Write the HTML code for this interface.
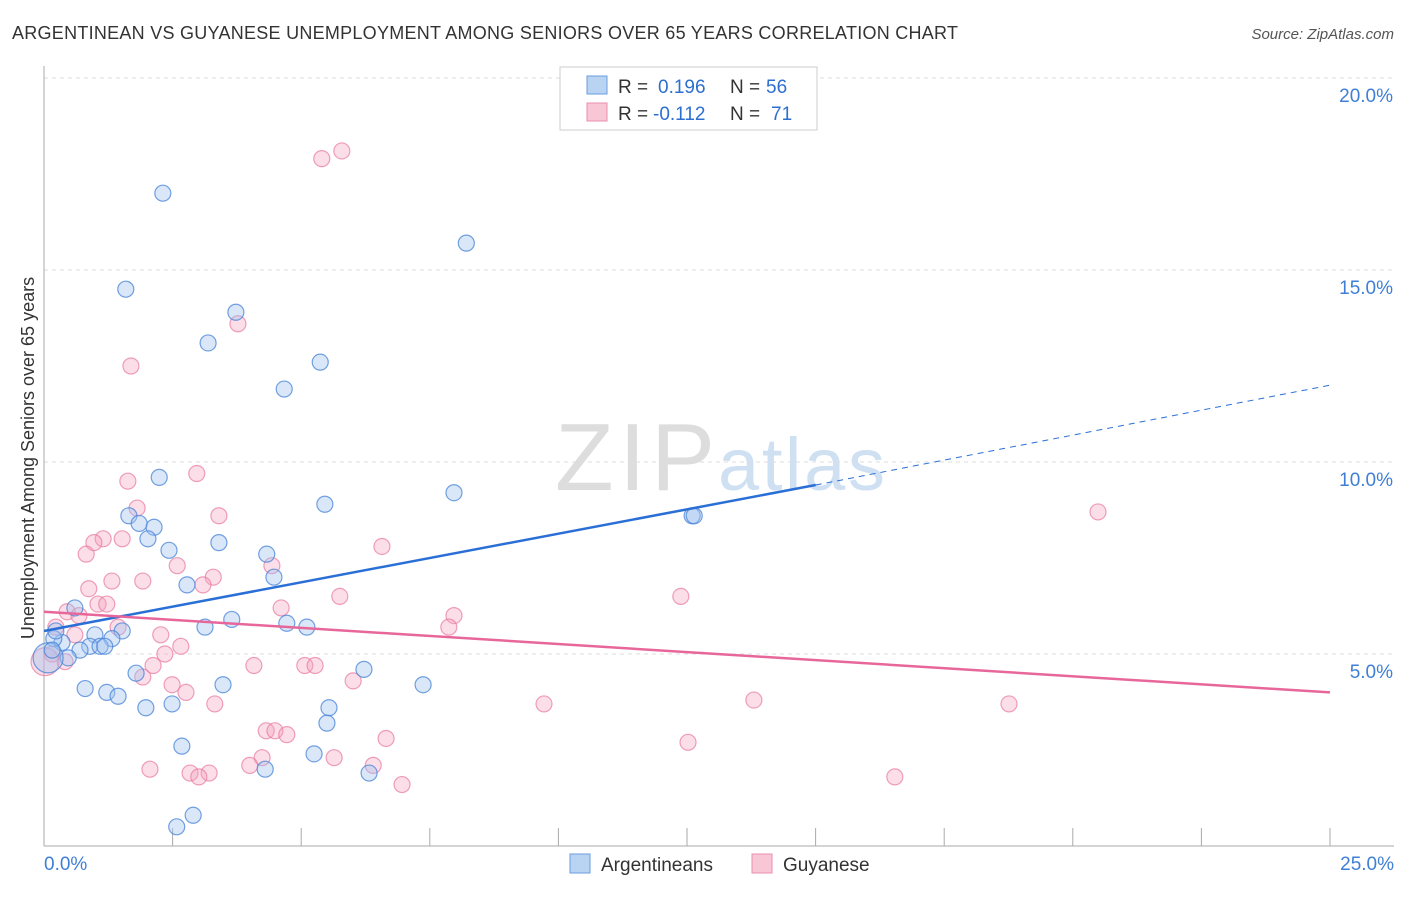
<!DOCTYPE html>
<html><head><meta charset="utf-8"><style>
body{margin:0;background:#fff;font-family:"Liberation Sans",sans-serif;}
svg text{font-family:"Liberation Sans",sans-serif;}
</style></head><body>
<svg id="chart" width="1406" height="892" xmlns="http://www.w3.org/2000/svg">
<text x="12" y="39" font-size="18" textLength="946" fill="#333">ARGENTINEAN VS GUYANESE UNEMPLOYMENT AMONG SENIORS OVER 65 YEARS CORRELATION CHART</text>
<text x="1394" y="39" font-size="15" fill="#555" text-anchor="end" font-style="italic">Source: ZipAtlas.com</text>
<text x="555" y="490" font-size="96" fill="#ddd" textLength="160" font-family="Liberation Serif">ZIP</text>
<text x="718" y="490" font-size="74" fill="#cfe0f3" textLength="167">atlas</text>
<g id="grid"></g><g id="axes"></g><g id="pts"></g><g id="lines"></g>
<text transform="translate(34,458) rotate(-90)" font-size="18" fill="#333" text-anchor="middle">Unemployment Among Seniors over 65 years</text>
<g>
<rect x="560" y="67" width="257" height="63" fill="#fff" stroke="#ccc"/>
<rect x="587" y="76" width="20" height="18" fill="#b9d3f3" stroke="#6b9de0"/>
<rect x="587" y="103" width="20" height="18" fill="#f9c6d6" stroke="#ea8fae"/>
<text x="618" y="93" font-size="19" fill="#333">R =</text>
<text x="658" y="93" font-size="19" fill="#2d6fd1">0.196</text>
<text x="730" y="93" font-size="19" fill="#333">N =</text>
<text x="766" y="93" font-size="19" fill="#2d6fd1">56</text>
<text x="618" y="120" font-size="19" fill="#333">R =</text>
<text x="653" y="120" font-size="19" fill="#2d6fd1">-0.112</text>
<text x="730" y="120" font-size="19" fill="#333">N =</text>
<text x="771" y="120" font-size="19" fill="#2d6fd1">71</text>
</g>
<g>
<rect x="570" y="854" width="20" height="19" fill="#b9d3f3" stroke="#6b9de0"/>
<text x="601" y="871" font-size="19" fill="#333">Argentineans</text>
<rect x="752" y="854" width="20" height="19" fill="#f9c6d6" stroke="#ea8fae"/>
<text x="783" y="871" font-size="19" fill="#333">Guyanese</text>
</g>
</svg>
<script>
const blueX=[2.31,8.21,1.59,3.73,3.19,5.37,4.67,2.24,7.97,5.46,1.65,1.85,2.14,2.02,2.43,3.40,12.6,12.64,4.33,4.47,2.78,0.60,3.65,3.13,4.72,5.11,1.52,0.99,1.32,0.35,0.19,0.89,1.09,1.18,0.70,0.47,0.08,6.22,1.79,7.37,3.48,0.80,1.22,1.44,5.54,2.49,1.98,5.50,2.68,5.25,4.30,6.32,2.90,2.58,0.23,0.16];
const blueY=[17.0,15.7,14.5,13.9,13.1,12.6,11.9,9.6,9.2,8.9,8.6,8.4,8.3,8.0,7.7,7.9,8.6,8.6,7.6,7.0,6.8,6.2,5.9,5.7,5.8,5.7,5.6,5.5,5.4,5.3,5.4,5.2,5.2,5.2,5.1,4.9,4.9,4.6,4.5,4.2,4.2,4.1,4.0,3.9,3.6,3.7,3.6,3.2,2.6,2.4,2.0,1.9,0.8,0.5,5.6,5.1];
const pinkX=[5.79,5.40,3.77,1.69,2.97,1.63,1.81,3.40,20.49,1.15,0.97,1.52,6.57,0.82,4.43,2.59,3.29,1.92,3.09,1.32,0.87,5.75,12.38,1.05,1.22,4.61,0.45,0.68,7.97,7.87,1.44,2.27,0.60,0.23,2.66,2.35,0.16,0.41,2.12,4.08,5.07,5.27,1.92,6.01,2.49,2.76,3.32,9.72,13.80,18.76,4.32,4.49,4.72,6.65,12.52,4.24,5.64,6.40,2.06,4.00,2.84,3.21,3.01,6.96,16.54,0.02];
const pinkY=[18.1,17.9,13.6,12.5,9.7,9.5,8.8,8.6,8.7,8.0,7.9,8.0,7.8,7.6,7.3,7.3,7.0,6.9,6.8,6.9,6.7,6.5,6.5,6.3,6.3,6.2,6.1,6.0,6.0,5.7,5.7,5.5,5.5,5.7,5.2,5.0,5.0,4.8,4.7,4.7,4.7,4.7,4.4,4.3,4.2,4.0,3.7,3.7,3.8,3.7,3.0,3.0,2.9,2.8,2.7,2.3,2.3,2.1,2.0,2.1,1.9,1.9,1.8,1.6,1.8,4.8];
const yTicks=[5,10,15,20];
const xTickLabels=["0.0%","25.0%"];
const blueLine=[[0,5.6],[15,9.4]], blueDash=[[15,9.4],[25,12.0]];
const pinkLine=[[0,6.1],[25,4.0]];
const X0=44,X1=1330,Y0=846,PY=38.4;
const sx=v=>X0+(v/25)*(X1-X0), sy=v=>Y0-v*PY;
const NS="http://www.w3.org/2000/svg";
function mk(p,t,a){const e=document.createElementNS(NS,t);for(const k in a)e.setAttribute(k,a[k]);p.appendChild(e);return e;}
const grid=document.getElementById('grid'),axes=document.getElementById('axes'),pts=document.getElementById('pts'),lines=document.getElementById('lines');
yTicks.forEach(v=>{
 const l=mk(grid,'line',{x1:X0,x2:1394,y1:sy(v),y2:sy(v),stroke:'#ddd','stroke-dasharray':'4,4'});
 
 
 const t=mk(axes,'text',{x:1393,y:sy(v)+24,'font-size':19,fill:'#3f7fd6','text-anchor':'end'});t.textContent=v.toFixed(1)+'%';
 
 
});
const ax=mk(axes,'line',{x1:X0,x2:X0,y1:66,y2:846,stroke:'#aaa'});


const bx=mk(axes,'line',{x1:X0,x2:1394,y1:846,y2:846,stroke:'#aaa'});


for(let i=1;i<=10;i++){const x=X0+i*(X1-X0)/10;const t=mk(axes,'line',{x1:x,x2:x,y1:828,y2:846,stroke:'#aaa'});
 
 }
[[X0,xTickLabels[0],'start'],[1394,xTickLabels[1],'end']].forEach(([x,s,a])=>{const t=mk(axes,'text',{x:x,y:870,'font-size':19,fill:'#3f7fd6','text-anchor':a});t.textContent=s;
 
 });
pinkX.forEach((v,i)=>{const c=mk(pts,'circle',{cx:sx(v),cy:sy(pinkY[i]),r:i==pinkX.length-1?14:8,fill:'rgba(244,160,190,0.35)',stroke:'rgba(232,120,160,0.7)','stroke-width':1.2});
 
 });
blueX.forEach((v,i)=>{const c=mk(pts,'circle',{cx:sx(v),cy:sy(blueY[i]),r:i==36?15:8,fill:'rgba(160,196,240,0.4)',stroke:'rgba(70,130,215,0.75)','stroke-width':1.2});
 
 });
const bl=mk(lines,'line',{x1:sx(blueLine[0][0]),y1:sy(blueLine[0][1]),x2:sx(blueLine[1][0]),y2:sy(blueLine[1][1]),stroke:'#2a6fd6','stroke-width':2.5});


const bd=mk(lines,'line',{x1:sx(blueDash[0][0]),y1:sy(blueDash[0][1]),x2:sx(blueDash[1][0]),y2:sy(blueDash[1][1]),stroke:'#2a6fd6','stroke-width':1,'stroke-dasharray':'6,5'});


const pl=mk(lines,'line',{x1:sx(pinkLine[0][0]),y1:sy(pinkLine[0][1]),x2:sx(pinkLine[1][0]),y2:sy(pinkLine[1][1]),stroke:'#e8679a','stroke-width':2.5});


</script>
</body></html>
